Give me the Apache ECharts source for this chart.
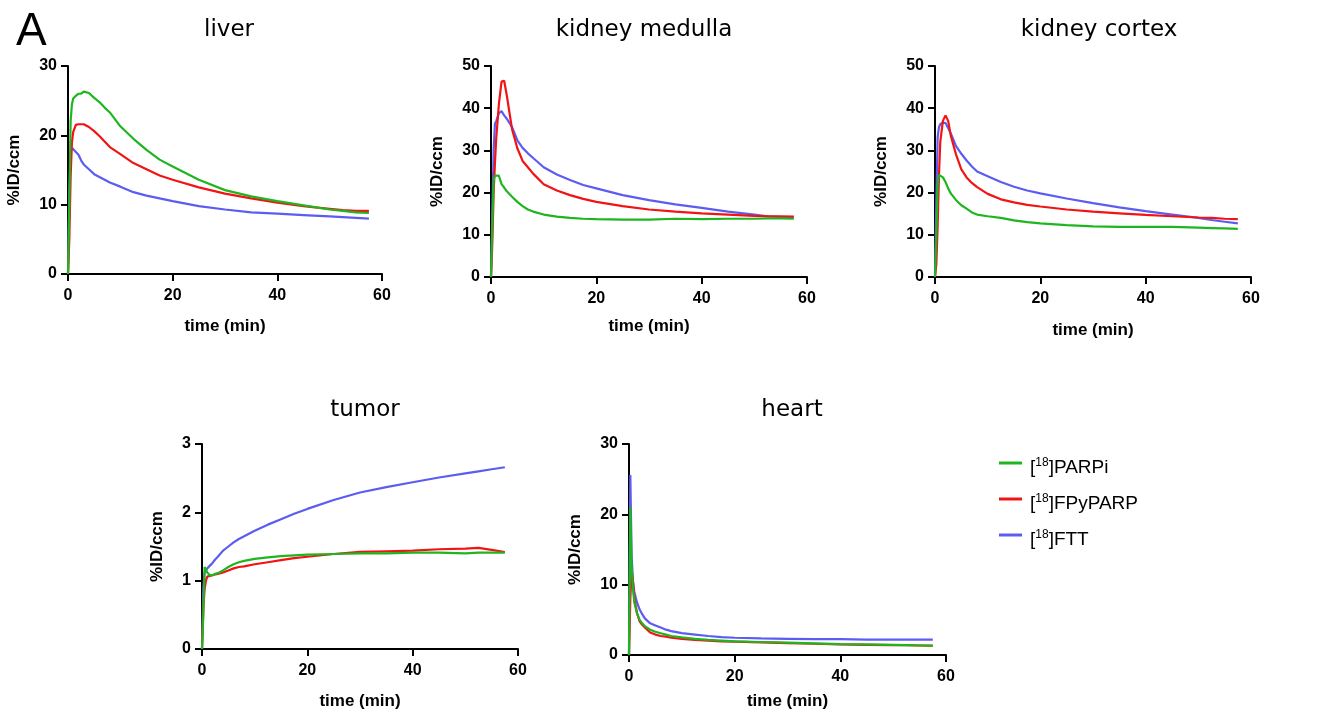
<!DOCTYPE html>
<html>
<head>
<meta charset="utf-8">
<script src="https://cdn.jsdelivr.net/npm/echarts@6/dist/echarts.min.js"></script>
<style>
  body { margin: 0; background: #fff; }
  #main { width: 1325px; height: 716px; }
</style>
</head>
<body>
<div id="main"></div>
<script>
// time points (min), shared by all curves
var times = [0, 0.25, 0.5, 0.75, 1, 1.5, 2, 2.5, 3, 4, 5, 6, 7, 8, 10, 12.5, 15, 17.5, 20, 25, 30, 35, 40, 45, 50, 52.5, 55, 57.5];

var tracers = ['[18F]PARPi', '[18F]FPyPARP', '[18F]FTT'];
var colors = ['#1fb51f', '#f21414', '#5c5cf2'];
var organs = ['liver', 'kidney medulla', 'kidney cortex', 'tumor', 'heart'];
var yMax = [30, 50, 50, 3, 30];
var yStep = [10, 10, 10, 1, 10];

// %ID/ccm
var liverPARPi   = [0, 10, 22, 24.5, 25.3, 25.7, 26.0, 26.0, 26.3, 26.1, 25.4, 24.8, 24.0, 23.3, 21.3, 19.5, 17.9, 16.5, 15.5, 13.6, 12.1, 11.2, 10.5, 9.9, 9.3, 9.1, 8.9, 8.8];
var liverFPyPARP = [0, 5, 14, 19, 20.5, 21.5, 21.6, 21.6, 21.6, 21.2, 20.6, 19.9, 19.1, 18.3, 17.3, 16.0, 15.1, 14.2, 13.6, 12.5, 11.6, 10.9, 10.3, 9.8, 9.4, 9.2, 9.1, 9.1];
var liverFTT     = [0, 12, 17.5, 18.2, 18.0, 17.6, 17.2, 16.4, 15.8, 15.1, 14.4, 14.0, 13.6, 13.2, 12.6, 11.8, 11.3, 10.9, 10.5, 9.8, 9.3, 8.9, 8.7, 8.5, 8.3, 8.2, 8.1, 8.0];

var medullaPARPi   = [0, 12, 23, 24, 24, 24, 22, 21.2, 20.3, 19, 17.8, 16.8, 16.0, 15.5, 14.8, 14.3, 14.0, 13.8, 13.7, 13.6, 13.6, 13.8, 13.7, 13.8, 13.8, 13.9, 13.9, 13.8];
var medullaFPyPARP = [0, 8, 20, 27, 33, 41, 46.3, 46.5, 43, 35, 30.5, 27.5, 26, 24.5, 22, 20.5, 19.4, 18.5, 17.8, 16.8, 16.0, 15.5, 15.1, 14.8, 14.5, 14.4, 14.4, 14.3];
var medullaFTT     = [0, 15, 30, 36.3, 37, 38.8, 39.3, 38.3, 37.5, 35.5, 32.4, 30.6, 29.3, 28.2, 26, 24.3, 23, 21.8, 21.0, 19.4, 18.2, 17.2, 16.4, 15.5, 14.8, 14.4, 14.2, 14.1];

var cortexPARPi   = [0, 10, 22, 24.2, 24.4, 23.6, 22.5, 21, 19.8, 18.2, 17.0, 16.2, 15.3, 14.8, 14.4, 14.0, 13.4, 13.0, 12.7, 12.3, 12.0, 11.9, 11.9, 11.9, 11.7, 11.6, 11.5, 11.4];
var cortexFPyPARP = [0, 3, 12, 24, 32, 37, 38.3, 37, 33.5, 29, 25.5, 23.6, 22.3, 21.3, 19.7, 18.4, 17.7, 17.1, 16.7, 16.0, 15.5, 15.1, 14.7, 14.4, 14.1, 14.0, 13.8, 13.7];
var cortexFTT     = [0, 18, 33, 35.5, 36.2, 36.6, 36.5, 35.3, 34, 31, 29.2, 27.6, 26.2, 25, 23.9, 22.5, 21.4, 20.5, 19.8, 18.6, 17.5, 16.5, 15.6, 14.8, 14.0, 13.5, 13.1, 12.7];

var tumorPARPi   = [0, 0.5, 1.2, 1.2, 1.12, 1.08, 1.08, 1.1, 1.11, 1.15, 1.2, 1.24, 1.27, 1.29, 1.32, 1.34, 1.36, 1.37, 1.38, 1.39, 1.4, 1.4, 1.41, 1.41, 1.4, 1.41, 1.41, 1.41];
var tumorFPyPARP = [0, 0.6, 0.88, 1.0, 1.06, 1.07, 1.08, 1.09, 1.1, 1.12, 1.15, 1.18, 1.2, 1.21, 1.24, 1.27, 1.3, 1.33, 1.35, 1.39, 1.42, 1.43, 1.44, 1.46, 1.47, 1.48, 1.45, 1.42];
var tumorFTT     = [0, 0.9, 1.12, 1.15, 1.18, 1.22, 1.26, 1.31, 1.35, 1.44, 1.5, 1.56, 1.61, 1.65, 1.73, 1.82, 1.9, 1.98, 2.05, 2.18, 2.29, 2.37, 2.44, 2.51, 2.57, 2.6, 2.63, 2.66];

var heartPARPi   = [0, 21, 12.5, 9.5, 7.5, 6, 5, 4.5, 4.1, 3.6, 3.3, 3.1, 2.9, 2.7, 2.5, 2.3, 2.15, 2.05, 1.95, 1.85, 1.75, 1.65, 1.55, 1.5, 1.45, 1.4, 1.35, 1.3];
var heartFPyPARP = [0, 8, 12, 10.5, 8, 6, 4.8, 4.3, 3.9, 3.2, 2.9, 2.7, 2.6, 2.45, 2.3, 2.15, 2.05, 1.95, 1.9, 1.8, 1.7, 1.6, 1.5, 1.45, 1.4, 1.4, 1.35, 1.35];
var heartFTT     = [0, 25.6, 14, 10.5, 9, 7.5, 6.5, 5.8, 5.2, 4.5, 4.2, 3.9, 3.6, 3.4, 3.1, 2.9, 2.7, 2.55, 2.45, 2.35, 2.3, 2.25, 2.25, 2.2, 2.2, 2.2, 2.2, 2.2];

var panelData = [
  [liverPARPi, liverFPyPARP, liverFTT],
  [medullaPARPi, medullaFPyPARP, medullaFTT],
  [cortexPARPi, cortexFPyPARP, cortexFTT],
  [tumorPARPi, tumorFPyPARP, tumorFTT],
  [heartPARPi, heartFPyPARP, heartFTT]
];

// layout of the panels
var grids = [
  { left: 68, top: 66, width: 314, height: 208 },
  { left: 491, top: 66, width: 316, height: 211 },
  { left: 935, top: 66, width: 316, height: 211 },
  { left: 202, top: 444, width: 316, height: 205 },
  { left: 629, top: 444, width: 317, height: 211 }
];
var titleX = [224, 639, 1094, 360, 787];
var yNameGap = [45, 45, 45, 36, 45];
var xNameGap = [44, 41, 45, 44, 38];

var fontFam = '"Liberation Sans", Arial, sans-serif';
var axisLbl = { color: '#000', fontWeight: 'bold', fontSize: 16, fontFamily: fontFam };
var axisName = { color: '#000', fontWeight: 'bold', fontSize: 17, fontFamily: fontFam };
var axisLine = { lineStyle: { color: '#000', width: 2 } };
var axisTick = { length: 7, lineStyle: { color: '#000', width: 2 } };

var xAxes = [], yAxes = [], series = [], titles = [];
for (let i = 0; i < 5; i++) {
  titles.push({
    text: organs[i],
    left: titleX[i],
    textAlign: 'center',
    top: i < 3 ? 14 : 394,
    textStyle: { fontSize: 23, fontWeight: 'normal', color: '#000', fontFamily: '"DejaVu Sans", sans-serif' }
  });
  xAxes.push({
    gridIndex: i, type: 'value', min: 0, max: 60, interval: 20,
    name: 'time (min)', nameLocation: 'middle', nameGap: xNameGap[i],
    nameTextStyle: axisName,
    axisLine: axisLine, axisTick: axisTick, splitLine: { show: false },
    axisLabel: Object.assign({ margin: 14 }, axisLbl)
  });
  yAxes.push({
    gridIndex: i, type: 'value', min: 0, max: yMax[i], interval: yStep[i],
    name: '%ID/ccm', nameLocation: 'middle', nameGap: yNameGap[i],
    nameTextStyle: axisName,
    axisLine: Object.assign({ show: true }, axisLine), axisTick: Object.assign({ show: true }, axisTick),
    splitLine: { show: false },
    axisLabel: Object.assign({ margin: 11 }, axisLbl)
  });
  for (let s = 0; s < 3; s++) {
    series.push({
      name: tracers[s], type: 'line', xAxisIndex: i, yAxisIndex: i,
      showSymbol: false, symbol: 'none',
      lineStyle: { width: 2.2, color: colors[s] }, itemStyle: { color: colors[s] },
      data: times.map((t, k) => [t, panelData[i][s][k]]),
      z: 3 - s
    });
  }
}

titles.push({
  text: 'A', left: 11, top: 4,
  textStyle: { fontSize: 46, fontWeight: 'normal', color: '#000', fontFamily: fontFam }
});

var myChart = echarts.init(document.getElementById('main'));
myChart.setOption({
  animation: false,
  title: titles,
  grid: grids,
  xAxis: xAxes,
  yAxis: yAxes,
  legend: {
    data: tracers, orient: 'vertical', left: 994, top: 442,
    itemWidth: 23, itemHeight: 3, itemGap: 4, icon: 'rect',
    formatter: function (name) { return '[{s|18}' + name.slice(4); },
    textStyle: {
      fontFamily: fontFam, fontSize: 19, color: '#000', padding: [10, 0, 0, 3], lineHeight: 22,
      rich: { s: { fontSize: 12, lineHeight: 12, verticalAlign: 'top', fontFamily: fontFam, color: '#000' } }
    }
  },
  series: series
});
</script>
</body>
</html>
